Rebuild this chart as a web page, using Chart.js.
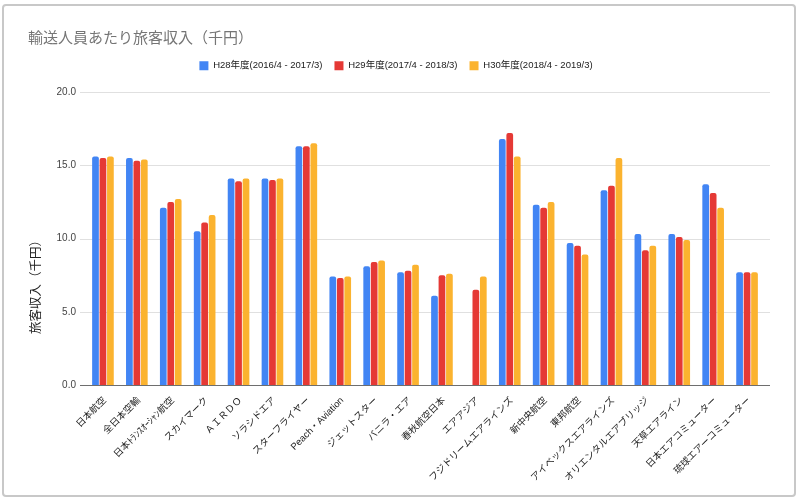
<!DOCTYPE html>
<html>
<head>
<meta charset="utf-8">
<script src="https://cdn.jsdelivr.net/npm/chart.js@4"></script>
<style>
  body { margin: 0; background: #fff; }
  #wrap { position: relative; width: 800px; height: 501px; }
  #frame {
    position: absolute; left: 2px; top: 4px; width: 794px; height: 493px;
    box-sizing: border-box; border: 2px solid #c8c8c8; border-radius: 4px;
    pointer-events: none;
  }
  canvas { position: absolute; left: 0; top: 0; }
</style>
</head>
<body>
<div id="wrap">
  <canvas id="chart" width="800" height="501"></canvas>
  <div id="frame"></div>
</div>
<script>
// airlines (x categories)
const airlines = [
  '日本航空', '全日本空輸', '日本ﾄﾗﾝｽｵｰｼｬﾝ航空', 'スカイマーク', 'ＡＩＲＤＯ',
  'ソラシドエア', 'スターフライヤー', 'Peach・Aviation', 'ジェットスター', 'バニラ・エア',
  '春秋航空日本', 'エアアジア', 'フジドリームエアラインズ', '新中央航空', '東邦航空',
  'アイベックスエアラインズ', 'オリエンタルエアブリッジ', '天草エアライン', '日本エアコミューター', '琉球エアーコミューター'
];

// revenue per passenger (thousand yen)
const h28 = [15.6, 15.5, 12.1, 10.5, 14.1, 14.1, 16.3, 7.4, 8.1, 7.7, 6.1, null, 16.8, 12.3, 9.7, 13.3, 10.3, 10.3, 13.7, 7.7];
const h29 = [15.5, 15.3, 12.5, 11.1, 13.9, 14.0, 16.3, 7.3, 8.4, 7.8, 7.5, 6.5, 17.2, 12.1, 9.5, 13.6, 9.2, 10.1, 13.1, 7.7];
const h30 = [15.6, 15.4, 12.7, 11.6, 14.1, 14.1, 16.5, 7.4, 8.5, 8.2, 7.6, 7.4, 15.6, 12.5, 8.9, 15.5, 9.5, 9.9, 12.1, 7.7];

const seriesNames = ['H28年度(2016/4 - 2017/3)', 'H29年度(2017/4 - 2018/3)', 'H30年度(2018/4 - 2019/3)'];
const yTicks = [0, 5, 10, 15, 20];

Chart.defaults.font.family = '"Liberation Sans", "Noto Sans CJK JP", sans-serif';

// horizontal gridlines a bit wider than the plot, plus the dark baseline
const hGrid = {
  id: 'hGrid',
  beforeDatasetsDraw(chart) {
    const {ctx, chartArea} = chart;
    const y = chart.scales.y;
    ctx.save();
    ctx.strokeStyle = '#e0e0e0';
    ctx.lineWidth = 1;
    yTicks.forEach(v => {
      if (v === 0) return;
      const py = Math.round(y.getPixelForValue(v)) + 0.5;
      ctx.beginPath();
      ctx.moveTo(chartArea.left - 6, py);
      ctx.lineTo(chartArea.right + 6, py);
      ctx.stroke();
    });
    ctx.restore();
  },
  afterDatasetsDraw(chart) {
    const {ctx, chartArea} = chart;
    const py = Math.round(chart.scales.y.getPixelForValue(0)) + 0.5;
    ctx.save();
    ctx.strokeStyle = '#6e6e6e';
    ctx.lineWidth = 1;
    ctx.beginPath();
    ctx.moveTo(chartArea.left - 6, py);
    ctx.lineTo(chartArea.right + 6, py);
    ctx.stroke();
    ctx.restore();
  }
};

// y axis title sits lower than the axis centre, so draw it by hand
const yTitle = {
  id: 'yTitle',
  afterDraw(chart) {
    const {ctx} = chart;
    ctx.save();
    ctx.translate(35, 284);
    ctx.rotate(-Math.PI / 2);
    ctx.font = '12.5px "Noto Sans CJK JP", sans-serif';
    ctx.fillStyle = '#222';
    ctx.textAlign = 'center';
    ctx.textBaseline = 'middle';
    ctx.fillText('旅客収入（千円）', 0, 0);
    ctx.restore();
  }
};

const colors = ['#4285f4', '#e53935', '#fbb32f'];

new Chart(document.getElementById('chart'), {
  type: 'bar',
  data: {
    labels: airlines,
    datasets: [h28, h29, h30].map((d, i) => ({
      label: seriesNames[i],
      data: d,
      backgroundColor: colors[i],
      borderWidth: 0,
      borderRadius: 2,
      categoryPercentage: 0.66,
      barPercentage: 0.9
    }))
  },
  options: {
    responsive: false,
    animation: false,
    layout: {padding: {left: 28, right: 36, top: 0, bottom: 0}},
    scales: {
      x: {
        grid: {display: false},
        border: {display: false},
        ticks: {
          autoSkip: false,
          minRotation: 45,
          maxRotation: 45,
          padding: 2,
          labelOffset: 2,
          color: '#222',
          font: {size: 9.5}
        },
        afterFit: s => { s.height = 116; }
      },
      // empty spacer between legend and plot
      xTop: {
        type: 'category',
        position: 'top',
        grid: {display: false},
        border: {display: false},
        ticks: {display: false},
        afterFit: s => { s.height = 11.5; }
      },
      y: {
        min: 0,
        max: 20,
        grid: {display: false, drawTicks: false},
        border: {display: false},
        ticks: {
          stepSize: 5,
          padding: 10,
          color: '#444',
          font: {size: 10},
          callback: v => v.toFixed(1)
        },
        afterFit: s => { s.width = 58; }
      }
    },
    plugins: {
      title: {
        display: true,
        text: '輸送人員あたり旅客収入（千円）',
        align: 'start',
        color: '#757575',
        font: {size: 15, weight: 'normal', family: '"Noto Sans CJK JP", sans-serif'},
        padding: {top: 28, bottom: 3}
      },
      legend: {
        position: 'top',
        labels: {
          boxWidth: 9,
          boxHeight: 9,
          padding: 12,
          color: '#222',
          font: {size: 9.5}
        }
      },
      tooltip: {enabled: false}
    }
  },
  plugins: [hGrid, yTitle]
});
</script>
</body>
</html>
